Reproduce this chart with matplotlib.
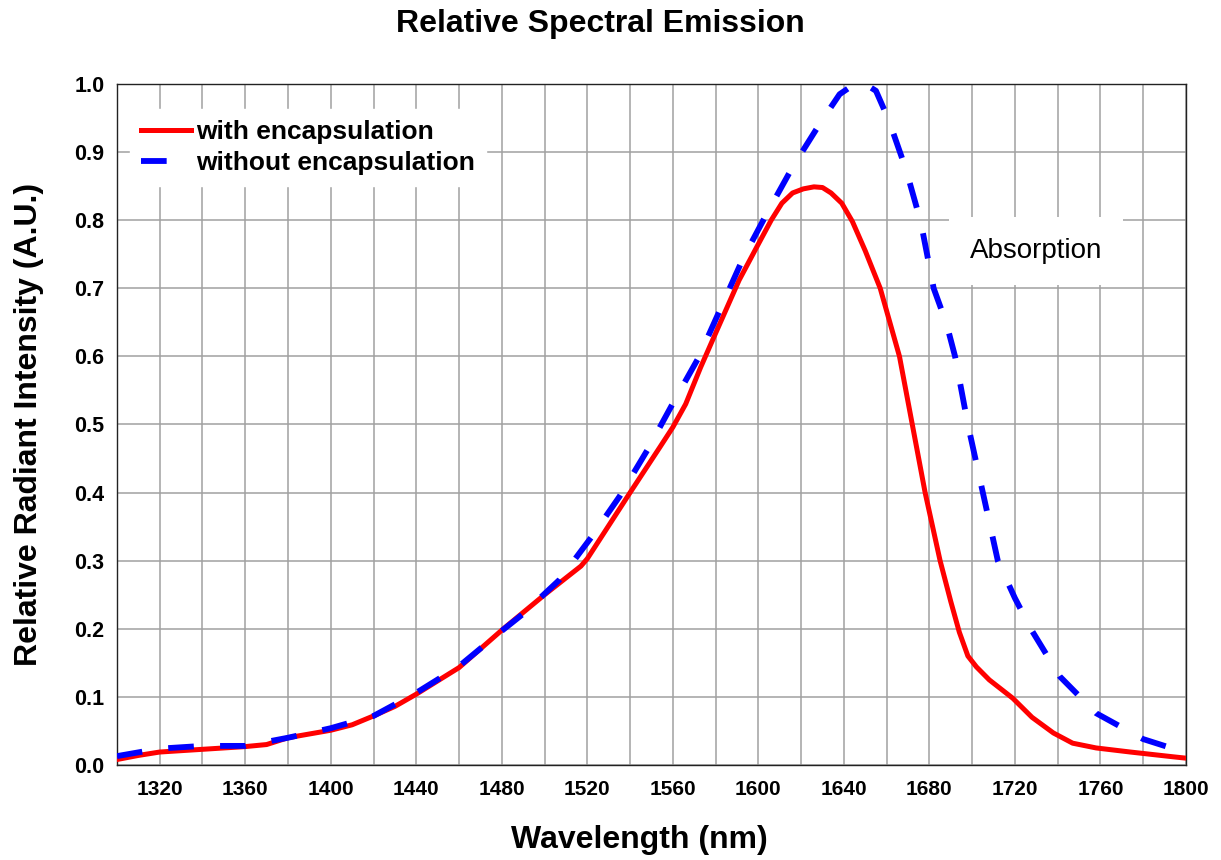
import matplotlib.pyplot as plt
import numpy as np

plt.rcParams['font.family'] = ['Liberation Sans', 'DejaVu Sans']

# with encapsulation (red)
wl_enc = [1300, 1310, 1320, 1340, 1360, 1370, 1380, 1400, 1410, 1420, 1430, 1440,
          1460, 1480, 1500, 1517, 1520, 1540, 1554, 1560, 1566, 1573, 1580, 1591,
          1600, 1606, 1611, 1616, 1621, 1626, 1630, 1634, 1639, 1644, 1650, 1657, 1666,
          1672, 1678, 1685, 1690, 1694, 1698, 1702, 1708, 1719, 1728, 1738, 1747,
          1758, 1774, 1794, 1800]
val_enc = [0.008, 0.014, 0.019, 0.023, 0.027, 0.030, 0.040, 0.051, 0.059, 0.072, 0.086, 0.104,
           0.143, 0.198, 0.250, 0.292, 0.303, 0.400, 0.467, 0.496, 0.530, 0.584, 0.634, 0.712,
           0.765, 0.800, 0.825, 0.840, 0.846, 0.849, 0.848, 0.840, 0.825, 0.798, 0.755, 0.700, 0.600,
           0.500, 0.400, 0.300, 0.240, 0.195, 0.160, 0.144, 0.125, 0.098, 0.070, 0.047, 0.032,
           0.025, 0.019, 0.012, 0.010]

# without encapsulation (blue dashed)
wl_raw = [1300, 1320, 1340, 1360, 1380, 1400, 1420, 1440, 1460, 1480, 1490, 1507,
          1522, 1535, 1548, 1560, 1572, 1582, 1593, 1604, 1616, 1629, 1638, 1645,
          1650, 1655, 1661, 1669, 1676, 1682, 1688, 1692, 1698, 1705, 1712, 1720,
          1728, 1741, 1758, 1780, 1800]
val_raw = [0.013, 0.024, 0.028, 0.028, 0.040, 0.054, 0.072, 0.106, 0.145, 0.197, 0.222, 0.272,
           0.335, 0.394, 0.462, 0.531, 0.598, 0.668, 0.745, 0.810, 0.878, 0.943, 0.985, 1.0,
           1.0, 0.99, 0.947, 0.875, 0.797, 0.700, 0.648, 0.600, 0.500, 0.400, 0.300, 0.245,
           0.197, 0.130, 0.076, 0.038, 0.018]

x_ticks = list(range(1320, 1801, 40))
y_ticks = [i / 10 for i in range(11)]

fig = plt.figure(figsize=(12.21, 8.6), dpi=100)
ax = fig.add_axes([0.0958, 0.1105, 0.8755, 0.7918])

ax.plot(wl_enc, val_enc, color='#ff0000', linewidth=3.6, label='with encapsulation',
        solid_joinstyle='round', zorder=3)
ax.plot(wl_raw, val_raw, color='#0000ff', linewidth=4.2, linestyle=(0, (4.4, 4.5)),
        label='without encapsulation', zorder=3)

ax.set_xlim(1300, 1800)
ax.set_ylim(0, 1.0)
ax.set_xticks(x_ticks)
ax.set_xticks(range(1300, 1801, 20), minor=True)
ax.set_yticks(y_ticks)
ax.set_yticklabels([f'{v:.1f}' for v in y_ticks])
ax.grid(True, which='both', color='#a0a0a0', linewidth=1.1)
ax.set_axisbelow(True)
ax.tick_params(which='both', length=0)
ax.tick_params(axis='x', pad=11, labelsize=15)
ax.tick_params(axis='y', pad=9, labelsize=15.5)
for lbl in ax.get_xticklabels() + ax.get_yticklabels():
    lbl.set_fontweight('bold')
for s in ax.spines.values():
    s.set_linewidth(1.0)
    s.set_color('#222222')

ax.set_xlabel('Wavelength (nm)', fontsize=23, fontweight='bold')
ax.xaxis.set_label_coords(0.489, -0.088)
ax.set_ylabel('Relative Radiant Intensity (A.U.)', fontsize=23, fontweight='bold', labelpad=22)
fig.suptitle('Relative Spectral Emission', fontsize=23, fontweight='bold', x=0.492, y=0.99)

leg = ax.legend(loc='upper left', bbox_to_anchor=(0.0, 0.982), frameon=True,
                prop={'weight': 'bold', 'size': 19}, handlelength=1.9,
                handletextpad=0.2, labelspacing=0.27, borderaxespad=0.5)
leg.get_frame().set_facecolor('white')
leg.get_frame().set_edgecolor('white')
leg.get_frame().set_alpha(1)

ax.text(1730, 0.755, 'Absorption', fontsize=20, ha='center', va='center',
        bbox=dict(facecolor='white', edgecolor='none', pad=15), zorder=2)

fig.savefig('out.png', dpi=100)
